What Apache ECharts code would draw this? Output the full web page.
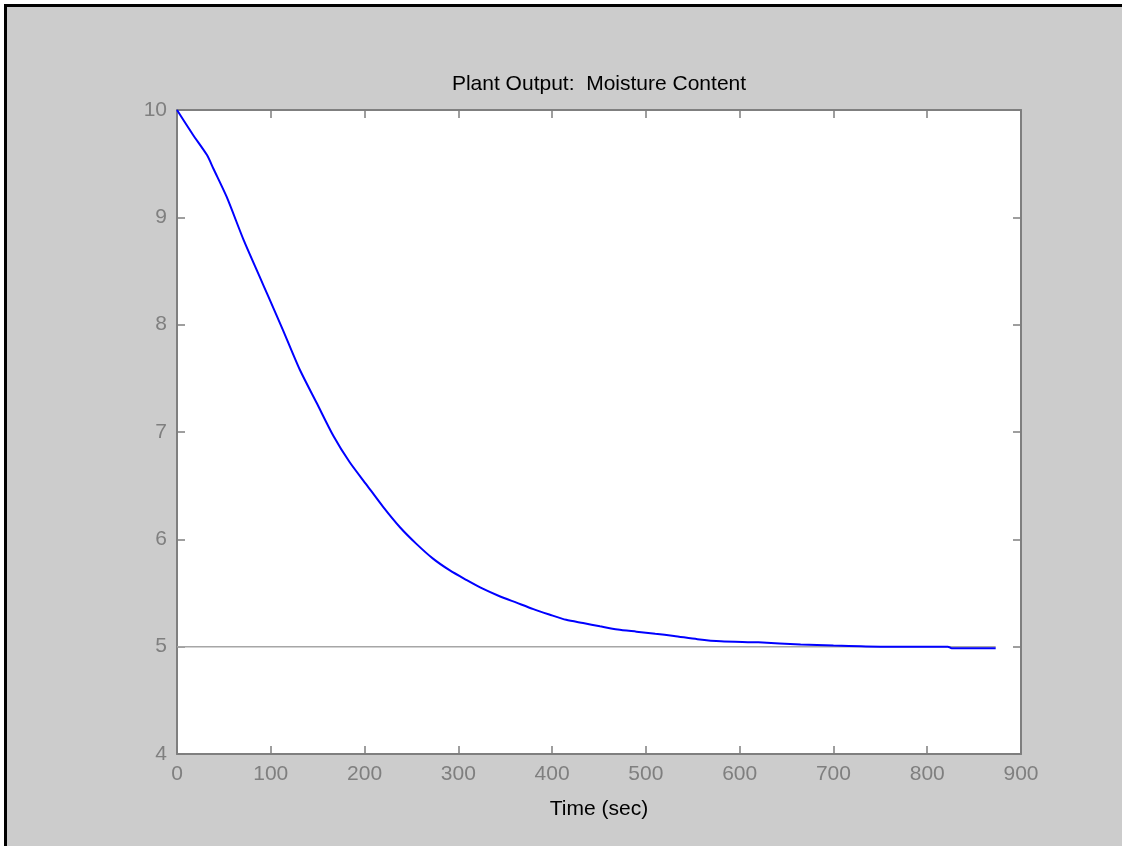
<!DOCTYPE html>
<html>
<head>
<meta charset="utf-8">
<script src="https://cdn.jsdelivr.net/npm/echarts@6/dist/echarts.min.js"></script>
<style>
html,body{margin:0;padding:0;background:#ffffff;}
#chart{width:1122px;height:846px;}
</style>
</head>
<body>
<div id="chart"></div>
<script>
// Data
const timeSec = [0, 17, 32, 39, 53, 71, 88, 97, 113, 131, 149, 167, 184, 202, 220, 238, 255, 273, 291, 309, 326, 344, 362, 380, 397, 415, 433, 451, 470, 490, 510, 530, 555, 580, 620, 665, 700, 750, 822, 826, 873];
const moisture = [10, 9.77, 9.58, 9.45, 9.19, 8.79, 8.45, 8.27, 7.95, 7.58, 7.27, 6.96, 6.72, 6.51, 6.30, 6.11, 5.96, 5.82, 5.71, 5.62, 5.54, 5.47, 5.41, 5.35, 5.30, 5.25, 5.22, 5.19, 5.16, 5.14, 5.12, 5.10, 5.07, 5.05, 5.04, 5.02, 5.01, 5.00, 5.00, 4.985, 4.985];
const setpointTime = [0, 873];
const setpointValue = [5, 5];
const xTicks = [0, 100, 200, 300, 400, 500, 600, 700, 800, 900];
const yTicks = [4, 5, 6, 7, 8, 9, 10];

const FONT = "'Liberation Sans', Arial, sans-serif";
const AXIS_GRAY = '#7f7f7f';

const curve = timeSec.map((t, i) => [t, moisture[i]]);
const setpoint = setpointTime.map((t, i) => [t, setpointValue[i]]);

function xAx(pos, showLabel) {
  return {
    type: 'value', position: pos, gridIndex: 0,
    min: xTicks[0], max: xTicks[xTicks.length - 1], interval: xTicks[1] - xTicks[0],
    axisLine: {show: true, onZero: false, lineStyle: {color: AXIS_GRAY, width: 2}},
    axisTick: {show: true, inside: true, length: 8, lineStyle: {color: AXIS_GRAY, width: 1.5}},
    axisLabel: {show: showLabel, color: AXIS_GRAY, fontFamily: FONT, fontSize: 21, margin: 10},
    splitLine: {show: false}
  };
}
function yAx(pos, showLabel) {
  return {
    type: 'value', position: pos, gridIndex: 0,
    min: yTicks[0], max: yTicks[yTicks.length - 1], interval: yTicks[1] - yTicks[0],
    axisLine: {show: true, onZero: false, lineStyle: {color: AXIS_GRAY, width: 2}},
    axisTick: {show: true, inside: true, length: 8, lineStyle: {color: AXIS_GRAY, width: 1.5}},
    axisLabel: {show: showLabel, color: AXIS_GRAY, fontFamily: FONT, fontSize: 21, margin: 10},
    splitLine: {show: false}
  };
}

const bottomX = xAx('bottom', true);
bottomX.name = 'Time (sec)';
bottomX.nameLocation = 'middle';
bottomX.nameGap = 45;
bottomX.nameTextStyle = {color: '#000000', fontFamily: FONT, fontSize: 21};

const chart = echarts.init(document.getElementById('chart'), null, {renderer: 'canvas'});
chart.setOption({
  backgroundColor: '#cccccc',
  animation: false,
  title: {
    text: 'Plant Output:  Moisture Content',
    left: 594, top: 69, textAlign: 'center',
    textStyle: {color: '#000000', fontFamily: FONT, fontSize: 21, fontWeight: 'normal'}
  },
  grid: {left: 177, top: 110, right: 101, bottom: 92, show: true, backgroundColor: '#ffffff', borderWidth: 0, containLabel: false},
  xAxis: [bottomX, xAx('top', false)],
  yAxis: [yAx('left', true), yAx('right', false)],
  graphic: [
    {type: 'rect', shape: {x: 0, y: 0, width: 1122, height: 4}, style: {fill: '#ffffff'}},
    {type: 'rect', shape: {x: 0, y: 0, width: 4, height: 846}, style: {fill: '#ffffff'}},
    {type: 'rect', shape: {x: 4, y: 4, width: 1118, height: 3}, style: {fill: '#000000'}},
    {type: 'rect', shape: {x: 4, y: 4, width: 3, height: 842}, style: {fill: '#000000'}}
  ],
  series: [
    {
      type: 'line', xAxisIndex: 0, yAxisIndex: 0, data: setpoint,
      showSymbol: false, z: 2,
      lineStyle: {color: '#a6a6a6', width: 1.5}
    },
    {
      type: 'line', xAxisIndex: 0, yAxisIndex: 0, data: curve,
      showSymbol: false, z: 3, smooth: 0.25,
      lineStyle: {color: '#0000ff', width: 2}
    }
  ]
});
</script>
</body>
</html>
